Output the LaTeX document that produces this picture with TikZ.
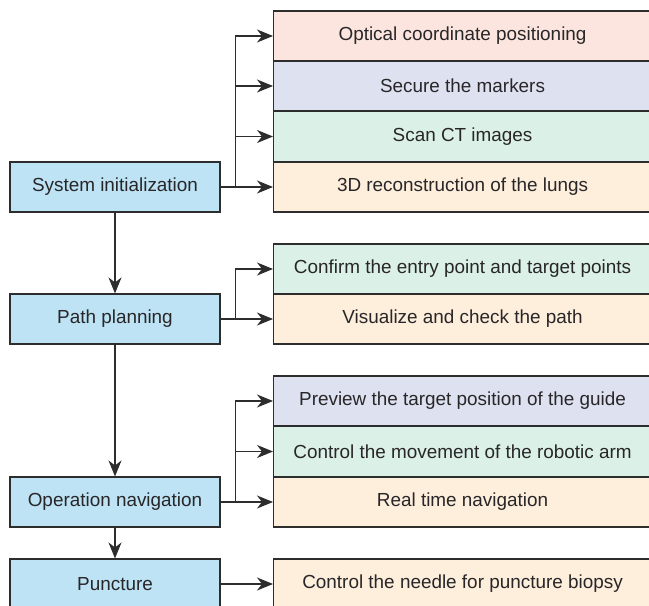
\documentclass[tikz,border=0pt]{standalone}
\usepackage{fontspec}
\setmainfont{Liberation Sans}
\usepackage{xcolor}
\usetikzlibrary{arrows.meta}

\definecolor{stepblue}{RGB}{189,227,244}
\definecolor{subpink}{RGB}{252,229,223}
\definecolor{sublilac}{RGB}{222,225,240}
\definecolor{submint}{RGB}{219,241,231}
\definecolor{subpeach}{RGB}{254,238,220}
\definecolor{linegray}{RGB}{45,45,45}
\definecolor{textgray}{RGB}{40,38,40}

\begin{document}
\begin{tikzpicture}[
    x                 = 1pt,
    y                 = -1pt,
    every node/.style = {font=\fontsize{18.9}{22}\selectfont, text=textgray},
    stepbox/.style    = {draw=linegray, line width=1.1pt, fill=stepblue,
                         minimum width=210pt, minimum height=50pt},
    subbox/.style     = {draw=linegray, line width=1.1pt, anchor=west,
                         minimum width=378pt, minimum height=50pt},
    arr/.style        = {draw=linegray, line width=1.1pt,
                         -{Stealth[length=16pt,width=13pt,inset=5pt]}}
  ]
\useasboundingbox (0,0) rectangle (649,606);

% main steps
\node[stepbox] (sys)  at (115,187) {System initialization};
\node[stepbox] (path) at (115,319) {Path planning};
\node[stepbox] (op)   at (115,502) {Operation navigation};
\node[stepbox] (punc) at (115,584) {Puncture};

% sub steps
\node[subbox,fill=subpink]  (opt)  at (273,36)    {Optical coordinate positioning};
\node[subbox,fill=sublilac] (mark) at (273,86)    {Secure the markers};
\node[subbox,fill=submint]  (scan) at (273,136.5) {Scan CT images};
\node[subbox,fill=subpeach] (lung) at (273,187)   {3D reconstruction of the lungs};

\node[subbox,fill=submint]  (entry) at (273,269) {Confirm the entry point and target points};
\node[subbox,fill=subpeach] (vis)   at (273,319) {Visualize and check the path};

\node[subbox,fill=sublilac] (prev) at (273,401)   {Preview the target position of the guide};
\node[subbox,fill=submint]  (arm)  at (273,451.5) {Control the movement of the robotic arm};
\node[subbox,fill=subpeach] (nav)  at (273,502)   {Real time navigation};

\node[subbox,fill=subpeach] (needle) at (273,584) {Control the needle for puncture biopsy};

% flow down
\draw[arr] (sys)  -- (path);
\draw[arr] (path) -- (op);
\draw[arr] (op)   -- (punc);

% branches
\draw[arr] (sys.east) -- ++(15,0) |- (opt.west);
\draw[arr] (sys.east) ++(15,0) |- (mark.west);
\draw[arr] (sys.east) ++(15,0) |- (scan.west);
\draw[arr] (sys.east) -- (lung.west);

\draw[arr] (path.east) -- ++(15,0) |- (entry.west);
\draw[arr] (path.east) -- (vis.west);

\draw[arr] (op.east) -- ++(15,0) |- (prev.west);
\draw[arr] (op.east) ++(15,0) |- (arm.west);
\draw[arr] (op.east) -- (nav.west);

\draw[arr] (punc.east) -- (needle.west);
\end{tikzpicture}
\end{document}
